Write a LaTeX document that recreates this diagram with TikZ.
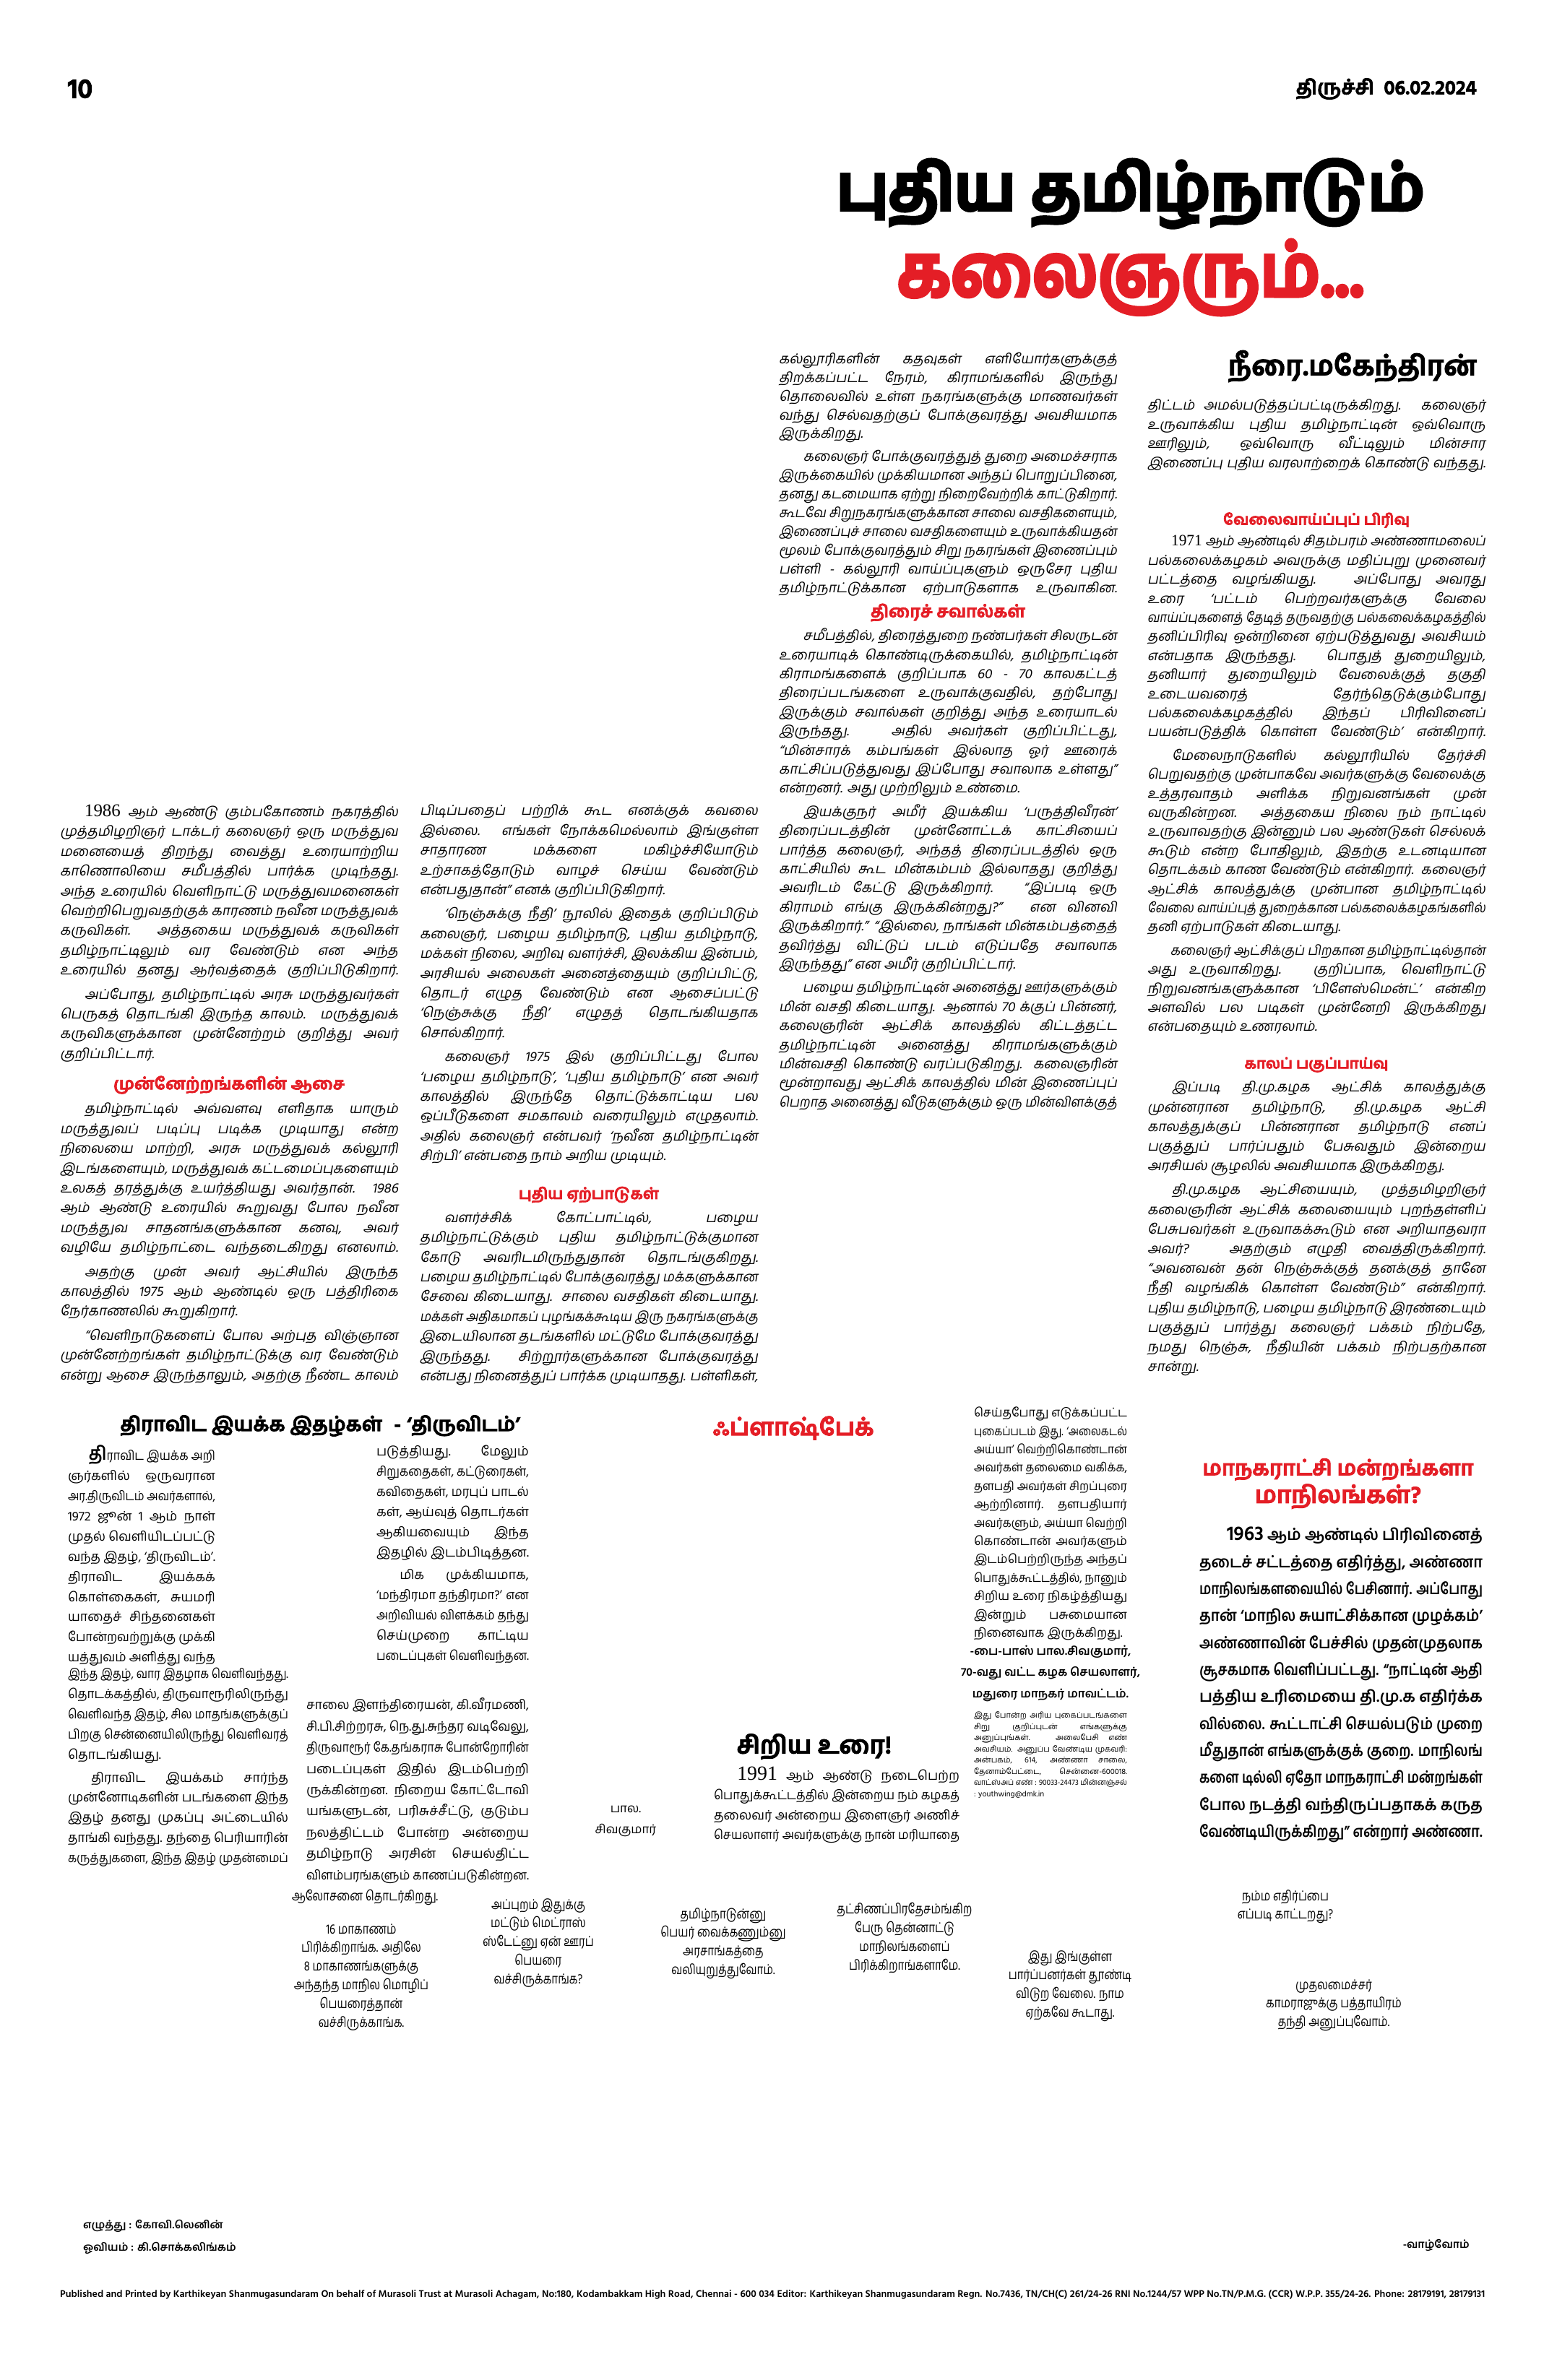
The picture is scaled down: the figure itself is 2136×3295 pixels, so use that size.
\documentclass[tikz,border=0pt]{standalone}
\usepackage{fontspec}
\usepackage{graphicx}
\setmainfont[Script=Tamil]{Hind Madurai}
\newfontfamily\slantfont[Script=Tamil,FakeSlant=0.18]{Hind Madurai}
\newfontfamily\condfont[Script=Tamil,FakeStretch=0.8]{Hind Madurai}
\newfontfamily\heavyfont[Script=Tamil,FakeBold=3]{Hind Madurai}
\newfontfamily\titlefont[Script=Tamil,FakeBold=5]{Hind Madurai}
\newfontfamily\numfont{Liberation Serif}
\definecolor{tnred}{RGB}{228,30,38}

% one justified line of a column, squeezed if it is too long
\newsavebox{\linebox}
\newcommand{\jline}[1]{\sbox\linebox{#1}\ifdim\wd\linebox>\linewidth\resizebox{\linewidth}{\height}{\usebox\linebox}\else\makebox[\linewidth][s]{#1}\fi\par}
\newcommand{\eline}[1]{\sbox\linebox{#1}\ifdim\wd\linebox>\linewidth\resizebox{\linewidth}{\height}{\usebox\linebox}\else\usebox\linebox\fi\par}
\newcommand{\pgap}{\vspace{6bp}}
\newcommand{\ind}{\hspace*{1.8em}}

\tikzset{
  textcol/.style={anchor=north west, inner sep=0pt, outer sep=0pt},
  colhead/.style={inner sep=0pt, text=tnred, font=\heavyfont\bfseries},
  blackhead/.style={inner sep=0pt, font=\heavyfont\bfseries},
  bubble/.style={anchor=north, inner sep=0pt, align=center, font=\condfont\fontsize{19}{26}\selectfont},
}

\begin{document}
\begin{tikzpicture}[x=1bp, y=-1bp]
\useasboundingbox (0,0) rectangle (2136,3295);

% page line
\node[blackhead] (pagenum) at (111,123) {\fontsize{38}{38}\selectfont 10};
\node[blackhead, anchor=east] (dateline) at (2044,123) {\resizebox{250bp}{!}{திருச்சி\hspace{0.5em}06.02.2024}};

% title
\node[inner sep=0pt, font=\titlefont\bfseries] (title1) at (1565,268) {\resizebox*{814bp}{95bp}{புதிய தமிழ்நாடும்}};
\node[inner sep=0pt, text=tnred, font=\titlefont\bfseries] (title2) at (1565,384) {\resizebox*{646bp}{104bp}{கலைஞரும்...}};
\node[blackhead] (author) at (1872,507) {\resizebox{344bp}{!}{நீரை.மகேந்திரன்}};

% column 1
\node[textcol] (colA) at (83,1114) {\begin{minipage}{468bp}\slantfont\fontsize{19}{27.5}\selectfont
\jline{\ind{\numfont\fontsize{25}{25}\selectfont 1986} ஆம் ஆண்டு கும்பகோணம் நகரத்தில்}
\jline{முத்தமிழறிஞர் டாக்டர் கலைஞர் ஒரு மருத்துவ}
\jline{மனையைத் திறந்து வைத்து உரையாற்றிய}
\jline{காணொலியை சமீபத்தில் பார்க்க முடிந்தது.}
\jline{அந்த உரையில் வெளிநாட்டு மருத்துவமனைகள்}
\jline{வெற்றிபெறுவதற்குக் காரணம் நவீன மருத்துவக்}
\jline{கருவிகள். அத்தகைய மருத்துவக் கருவிகள்}
\jline{தமிழ்நாட்டிலும் வர வேண்டும் என அந்த}
\jline{உரையில் தனது ஆர்வத்தைக் குறிப்பிடுகிறார்.}
\pgap
\jline{\ind அப்போது, தமிழ்நாட்டில் அரசு மருத்துவர்கள்}
\jline{பெருகத் தொடங்கி இருந்த காலம். மருத்துவக்}
\jline{கருவிகளுக்கான முன்னேற்றம் குறித்து அவர்}
\eline{குறிப்பிட்டார்.}
\end{minipage}};
\node[colhead] (headA) at (317,1502) {\resizebox{320bp}{!}{முன்னேற்றங்களின் ஆசை}};
\node[textcol] (colAb) at (83,1527) {\begin{minipage}{468bp}\slantfont\fontsize{19}{27.5}\selectfont
\jline{\ind தமிழ்நாட்டில் அவ்வளவு எளிதாக யாரும்}
\jline{மருத்துவப் படிப்பு படிக்க முடியாது என்ற}
\jline{நிலையை மாற்றி, அரசு மருத்துவக் கல்லூரி}
\jline{இடங்களையும், மருத்துவக் கட்டமைப்புகளையும்}
\jline{உலகத் தரத்துக்கு உயர்த்தியது அவர்தான். 1986}
\jline{ஆம் ஆண்டு உரையில் கூறுவது போல நவீன}
\jline{மருத்துவ சாதனங்களுக்கான கனவு, அவர்}
\jline{வழியே தமிழ்நாட்டை வந்தடைகிறது எனலாம்.}
\pgap
\jline{\ind அதற்கு முன் அவர் ஆட்சியில் இருந்த}
\jline{காலத்தில் 1975 ஆம் ஆண்டில் ஒரு பத்திரிகை}
\eline{நேர்காணலில் கூறுகிறார்.}
\pgap
\jline{\ind “வெளிநாடுகளைப் போல அற்புத விஞ்ஞான}
\jline{முன்னேற்றங்கள் தமிழ்நாட்டுக்கு வர வேண்டும்}
\jline{என்று ஆசை இருந்தாலும், அதற்கு நீண்ட காலம்}
\end{minipage}};

% column 2
\node[textcol] (colB) at (581,1114) {\begin{minipage}{468bp}\slantfont\fontsize{19}{27.5}\selectfont
\jline{பிடிப்பதைப் பற்றிக் கூட எனக்குக் கவலை}
\jline{இல்லை. எங்கள் நோக்கமெல்லாம் இங்குள்ள}
\jline{சாதாரண மக்களை மகிழ்ச்சியோடும்}
\jline{உற்சாகத்தோடும் வாழச் செய்ய வேண்டும்}
\eline{என்பதுதான்” எனக் குறிப்பிடுகிறார்.}
\pgap
\jline{\ind ‘நெஞ்சுக்கு நீதி’ நூலில் இதைக் குறிப்பிடும்}
\jline{கலைஞர், பழைய தமிழ்நாடு, புதிய தமிழ்நாடு,}
\jline{மக்கள் நிலை, அறிவு வளர்ச்சி, இலக்கிய இன்பம்,}
\jline{அரசியல் அலைகள் அனைத்தையும் குறிப்பிட்டு,}
\jline{தொடர் எழுத வேண்டும் என ஆசைப்பட்டு}
\jline{‘நெஞ்சுக்கு நீதி’ எழுதத் தொடங்கியதாக}
\eline{சொல்கிறார்.}
\pgap
\jline{\ind கலைஞர் 1975 இல் குறிப்பிட்டது போல}
\jline{‘பழைய தமிழ்நாடு’, ‘புதிய தமிழ்நாடு’ என அவர்}
\jline{காலத்தில் இருந்தே தொட்டுக்காட்டிய பல}
\jline{ஒப்பீடுகளை சமகாலம் வரையிலும் எழுதலாம்.}
\jline{அதில் கலைஞர் என்பவர் ‘நவீன தமிழ்நாட்டின்}
\eline{சிற்பி’ என்பதை நாம் அறிய முடியும்.}
\end{minipage}};
\node[colhead] (headB) at (815,1654) {\resizebox{194bp}{!}{புதிய ஏற்பாடுகள்}};
\node[textcol] (colBb) at (581,1677) {\begin{minipage}{468bp}\slantfont\fontsize{19}{27.5}\selectfont
\jline{\ind வளர்ச்சிக் கோட்பாட்டில், பழைய}
\jline{தமிழ்நாட்டுக்கும் புதிய தமிழ்நாட்டுக்குமான}
\jline{கோடு அவரிடமிருந்துதான் தொடங்குகிறது.}
\jline{பழைய தமிழ்நாட்டில் போக்குவரத்து மக்களுக்கான}
\jline{சேவை கிடையாது. சாலை வசதிகள் கிடையாது.}
\jline{மக்கள் அதிகமாகப் புழங்கக்கூடிய இரு நகரங்களுக்கு}
\jline{இடையிலான தடங்களில் மட்டுமே போக்குவரத்து}
\jline{இருந்தது. சிற்றூர்களுக்கான போக்குவரத்து}
\jline{என்பது நினைத்துப் பார்க்க முடியாதது. பள்ளிகள்,}
\end{minipage}};

% column 3
\node[textcol] (colC) at (1078,488) {\begin{minipage}{468bp}\slantfont\fontsize{19}{26}\selectfont
\jline{கல்லூரிகளின் கதவுகள் எளியோர்களுக்குத்}
\jline{திறக்கப்பட்ட நேரம், கிராமங்களில் இருந்து}
\jline{தொலைவில் உள்ள நகரங்களுக்கு மாணவர்கள்}
\jline{வந்து செல்வதற்குப் போக்குவரத்து அவசியமாக}
\eline{இருக்கிறது.}
\pgap
\jline{\ind கலைஞர் போக்குவரத்துத் துறை அமைச்சராக}
\jline{இருக்கையில் முக்கியமான அந்தப் பொறுப்பினை,}
\jline{தனது கடமையாக ஏற்று நிறைவேற்றிக் காட்டுகிறார்.}
\jline{கூடவே சிறுநகரங்களுக்கான சாலை வசதிகளையும்,}
\jline{இணைப்புச் சாலை வசதிகளையும் உருவாக்கியதன்}
\jline{மூலம் போக்குவரத்தும் சிறு நகரங்கள் இணைப்பும்}
\jline{பள்ளி - கல்லூரி வாய்ப்புகளும் ஒருசேர புதிய}
\jline{தமிழ்நாட்டுக்கான ஏற்பாடுகளாக உருவாகின.}
\end{minipage}};
\node[colhead] (headC) at (1312,848) {\resizebox{214bp}{!}{திரைச் சவால்கள்}};
\node[textcol] (colCb) at (1078,870) {\begin{minipage}{468bp}\slantfont\fontsize{19}{26.5}\selectfont
\jline{\ind சமீபத்தில், திரைத்துறை நண்பர்கள் சிலருடன்}
\jline{உரையாடிக் கொண்டிருக்கையில், தமிழ்நாட்டின்}
\jline{கிராமங்களைக் குறிப்பாக 60 - 70 காலகட்டத்}
\jline{திரைப்படங்களை உருவாக்குவதில், தற்போது}
\jline{இருக்கும் சவால்கள் குறித்து அந்த உரையாடல்}
\jline{இருந்தது. அதில் அவர்கள் குறிப்பிட்டது,}
\jline{“மின்சாரக் கம்பங்கள் இல்லாத ஓர் ஊரைக்}
\jline{காட்சிப்படுத்துவது இப்போது சவாலாக உள்ளது”}
\eline{என்றனர். அது முற்றிலும் உண்மை.}
\pgap
\jline{\ind இயக்குநர் அமீர் இயக்கிய ‘பருத்திவீரன்’}
\jline{திரைப்படத்தின் முன்னோட்டக் காட்சியைப்}
\jline{பார்த்த கலைஞர், அந்தத் திரைப்படத்தில் ஒரு}
\jline{காட்சியில் கூட மின்கம்பம் இல்லாதது குறித்து}
\jline{அவரிடம் கேட்டு இருக்கிறார். “இப்படி ஒரு}
\jline{கிராமம் எங்கு இருக்கின்றது?” என வினவி}
\jline{இருக்கிறார்.” “இல்லை, நாங்கள் மின்கம்பத்தைத்}
\jline{தவிர்த்து விட்டுப் படம் எடுப்பதே சவாலாக}
\eline{இருந்தது” என அமீர் குறிப்பிட்டார்.}
\pgap
\jline{\ind பழைய தமிழ்நாட்டின் அனைத்து ஊர்களுக்கும்}
\jline{மின் வசதி கிடையாது. ஆனால் 70 க்குப் பின்னர்,}
\jline{கலைஞரின் ஆட்சிக் காலத்தில் கிட்டத்தட்ட}
\jline{தமிழ்நாட்டின் அனைத்து கிராமங்களுக்கும்}
\jline{மின்வசதி கொண்டு வரப்படுகிறது. கலைஞரின்}
\jline{மூன்றாவது ஆட்சிக் காலத்தில் மின் இணைப்புப்}
\jline{பெறாத அனைத்து வீடுகளுக்கும் ஒரு மின்விளக்குத்}
\end{minipage}};

% column 4
\node[textcol] (colD) at (1588,553) {\begin{minipage}{468bp}\slantfont\fontsize{19}{26.5}\selectfont
\jline{திட்டம் அமல்படுத்தப்பட்டிருக்கிறது. கலைஞர்}
\jline{உருவாக்கிய புதிய தமிழ்நாட்டின் ஒவ்வொரு}
\jline{ஊரிலும், ஒவ்வொரு வீட்டிலும் மின்சார}
\jline{இணைப்பு புதிய வரலாற்றைக் கொண்டு வந்தது.}
\end{minipage}};
\node[colhead] (headD) at (1822,720) {\resizebox{258bp}{!}{வேலைவாய்ப்புப் பிரிவு}};
\node[textcol] (colDb) at (1588,741) {\begin{minipage}{468bp}\slantfont\fontsize{19}{26.5}\selectfont
\jline{\ind{\numfont\fontsize{22}{22}\selectfont 1971} ஆம் ஆண்டில் சிதம்பரம் அண்ணாமலைப்}
\jline{பல்கலைக்கழகம் அவருக்கு மதிப்புறு முனைவர்}
\jline{பட்டத்தை வழங்கியது. அப்போது அவரது}
\jline{உரை ‘பட்டம் பெற்றவர்களுக்கு வேலை}
\jline{வாய்ப்புகளைத் தேடித் தருவதற்கு பல்கலைக்கழகத்தில்}
\jline{தனிப்பிரிவு ஒன்றினை ஏற்படுத்துவது அவசியம்}
\jline{என்பதாக இருந்தது. பொதுத் துறையிலும்,}
\jline{தனியார் துறையிலும் வேலைக்குத் தகுதி}
\jline{உடையவரைத் தேர்ந்தெடுக்கும்போது}
\jline{பல்கலைக்கழகத்தில் இந்தப் பிரிவினைப்}
\jline{பயன்படுத்திக் கொள்ள வேண்டும்’ என்கிறார்.}
\pgap
\jline{\ind மேலைநாடுகளில் கல்லூரியில் தேர்ச்சி}
\jline{பெறுவதற்கு முன்பாகவே அவர்களுக்கு வேலைக்கு}
\jline{உத்தரவாதம் அளிக்க நிறுவனங்கள் முன்}
\jline{வருகின்றன. அத்தகைய நிலை நம் நாட்டில்}
\jline{உருவாவதற்கு இன்னும் பல ஆண்டுகள் செல்லக்}
\jline{கூடும் என்ற போதிலும், இதற்கு உடனடியான}
\jline{தொடக்கம் காண வேண்டும் என்கிறார். கலைஞர்}
\jline{ஆட்சிக் காலத்துக்கு முன்பான தமிழ்நாட்டில்}
\jline{வேலை வாய்ப்புத் துறைக்கான பல்கலைக்கழகங்களில்}
\eline{தனி ஏற்பாடுகள் கிடையாது.}
\pgap
\jline{\ind கலைஞர் ஆட்சிக்குப் பிறகான தமிழ்நாட்டில்தான்}
\jline{அது உருவாகிறது. குறிப்பாக, வெளிநாட்டு}
\jline{நிறுவனங்களுக்கான ‘பிளேஸ்மென்ட்’ என்கிற}
\jline{அளவில் பல படிகள் முன்னேறி இருக்கிறது}
\eline{என்பதையும் உணரலாம்.}
\end{minipage}};
\node[colhead] (headDb) at (1822,1474) {\resizebox{199bp}{!}{காலப் பகுப்பாய்வு}};
\node[textcol] (colDc) at (1588,1497) {\begin{minipage}{468bp}\slantfont\fontsize{19}{27.3}\selectfont
\jline{\ind இப்படி தி.மு.கழக ஆட்சிக் காலத்துக்கு}
\jline{முன்னரான தமிழ்நாடு, தி.மு.கழக ஆட்சி}
\jline{காலத்துக்குப் பின்னரான தமிழ்நாடு எனப்}
\jline{பகுத்துப் பார்ப்பதும் பேசுவதும் இன்றைய}
\eline{அரசியல் சூழலில் அவசியமாக இருக்கிறது.}
\pgap
\jline{\ind தி.மு.கழக ஆட்சியையும், முத்தமிழறிஞர்}
\jline{கலைஞரின் ஆட்சிக் கலையையும் புறந்தள்ளிப்}
\jline{பேசுபவர்கள் உருவாகக்கூடும் என அறியாதவரா}
\jline{அவர்? அதற்கும் எழுதி வைத்திருக்கிறார்.}
\jline{“அவனவன் தன் நெஞ்சுக்குத் தனக்குத் தானே}
\jline{நீதி வழங்கிக் கொள்ள வேண்டும்” என்கிறார்.}
\jline{புதிய தமிழ்நாடு, பழைய தமிழ்நாடு இரண்டையும்}
\jline{பகுத்துப் பார்த்து கலைஞர் பக்கம் நிற்பதே,}
\jline{நமது நெஞ்சு, நீதியின் பக்கம் நிற்பதற்கான}
\eline{சான்று.}
\end{minipage}};

% lower left: thiruvidam
\node[blackhead] (headE) at (443,1974) {\resizebox{553bp}{!}{திராவிட இயக்க இதழ்கள்\hspace{0.6em}-\hspace{0.3em}‘திருவிடம்’}};
\node[textcol] (colE) at (94,2001) {\begin{minipage}{204bp}\fontsize{18}{28}\selectfont
\jline{\ind{\bfseries\fontsize{26}{26}\selectfont தி}ராவிட இயக்க அறி}
\jline{ஞர்களில் ஒருவரான}
\jline{அர.திருவிடம் அவர்களால்,}
\jline{1972 ஜூன் 1 ஆம் நாள்}
\jline{முதல் வெளியிடப்பட்டு}
\jline{வந்த இதழ், ‘திருவிடம்’.}
\jline{திராவிட இயக்கக்}
\jline{கொள்கைகள், சுயமரி}
\jline{யாதைச் சிந்தனைகள்}
\jline{போன்றவற்றுக்கு முக்கி}
\jline{யத்துவம் அளித்து வந்த}
\end{minipage}};
\node[textcol] (colEb) at (94,2309) {\begin{minipage}{305bp}\fontsize{18}{28}\selectfont
\jline{இந்த இதழ், வார இதழாக வெளிவந்தது.}
\jline{தொடக்கத்தில், திருவாரூரிலிருந்து}
\jline{வெளிவந்த இதழ், சில மாதங்களுக்குப்}
\jline{பிறகு சென்னையிலிருந்து வெளிவரத்}
\eline{தொடங்கியது.}
\vspace{4bp}
\jline{\ind திராவிட இயக்கம் சார்ந்த}
\jline{முன்னோடிகளின் படங்களை இந்த}
\jline{இதழ் தனது முகப்பு அட்டையில்}
\jline{தாங்கி வந்தது. தந்தை பெரியாரின்}
\jline{கருத்துகளை, இந்த இதழ் முதன்மைப்}
\end{minipage}};
\node[textcol] (colF) at (521,2001) {\begin{minipage}{211bp}\fontsize{18}{28}\selectfont
\jline{படுத்தியது. மேலும்}
\jline{சிறுகதைகள், கட்டுரைகள்,}
\jline{கவிதைகள், மரபுப் பாடல்}
\jline{கள், ஆய்வுத் தொடர்கள்}
\jline{ஆகியவையும் இந்த}
\jline{இதழில் இடம்பிடித்தன.}
\vspace{4bp}
\jline{\ind மிக முக்கியமாக,}
\jline{‘மந்திரமா தந்திரமா?’ என}
\jline{அறிவியல் விளக்கம் தந்து}
\jline{செய்முறை காட்டிய}
\jline{படைப்புகள் வெளிவந்தன.}
\end{minipage}};
\node[textcol] (colFb) at (424,2351) {\begin{minipage}{308bp}\fontsize{18}{29.5}\selectfont
\jline{சாலை இளந்திரையன், கி.வீரமணி,}
\jline{சி.பி.சிற்றரசு, நெ.து.சுந்தர வடிவேலு,}
\jline{திருவாரூர் கே.தங்கராசு போன்றோரின்}
\jline{படைப்புகள் இதில் இடம்பெற்றி}
\jline{ருக்கின்றன. நிறைய கோட்டோவி}
\jline{யங்களுடன், பரிசுச்சீட்டு, குடும்ப}
\jline{நலத்திட்டம் போன்ற அன்றைய}
\jline{தமிழ்நாடு அரசின் செயல்திட்ட}
\jline{விளம்பரங்களும் காணப்படுகின்றன.}
\end{minipage}};

% flashback
\node[colhead] (headG) at (1098,1977) {\resizebox{223bp}{!}{ஃப்ளாஷ்பேக்}};
\node[textcol] (colG) at (1348,1948) {\begin{minipage}{212bp}\fontsize{17}{25.5}\selectfont
\jline{செய்தபோது எடுக்கப்பட்ட}
\jline{புகைப்படம் இது. ‘அலைகடல்}
\jline{அய்யா’ வெற்றிகொண்டான்}
\jline{அவர்கள் தலைமை வகிக்க,}
\jline{தளபதி அவர்கள் சிறப்புரை}
\jline{ஆற்றினார். தளபதியார்}
\jline{அவர்களும், அய்யா வெற்றி}
\jline{கொண்டான் அவர்களும்}
\jline{இடம்பெற்றிருந்த அந்தப்}
\jline{பொதுக்கூட்டத்தில், நானும்}
\jline{சிறிய உரை நிகழ்த்தியது}
\jline{இன்றும் பசுமையான}
\eline{நினைவாக இருக்கிறது.}
\end{minipage}};
\node[inner sep=0pt, anchor=north, align=center, font=\bfseries\fontsize{16}{30}\selectfont] (signG) at (1454,2278) {-பை-பாஸ் பால.சிவகுமார்,\\70-வது வட்ட கழக செயலாளர்,\\மதுரை மாநகர் மாவட்டம்.};
\node[textcol] (noteG) at (1348,2370) {\begin{minipage}{212bp}\fontsize{11}{15.5}\selectfont
\jline{இது போன்ற அரிய புகைப்படங்களை}
\jline{சிறு குறிப்புடன் எங்களுக்கு}
\jline{அனுப்புங்கள். அலைபேசி எண்}
\jline{அவசியம். அனுப்ப வேண்டிய முகவரி:}
\jline{அன்பகம், 614, அண்ணா சாலை,}
\jline{தேனாம்பேட்டை, சென்னை-600018.}
\jline{வாட்ஸ்அப் எண் : 90033-24473 மின்னஞ்சல்}
\eline{: youthwing@dmk.in}
\end{minipage}};

% small speech
\node[blackhead] (headH) at (1127,2418) {\fontsize{34}{34}\selectfont சிறிய உரை!};
\node[textcol] (colH) at (988,2446) {\begin{minipage}{340bp}\fontsize{18}{27.5}\selectfont
\jline{\ind{\numfont\fontsize{28}{28}\selectfont 1991} ஆம் ஆண்டு நடைபெற்ற}
\jline{பொதுக்கூட்டத்தில் இன்றைய நம் கழகத்}
\jline{தலைவர் அன்றைய இளைஞர் அணிச்}
\jline{செயலாளர் அவர்களுக்கு நான் மரியாதை}
\end{minipage}};
\node[inner sep=0pt, anchor=north, align=center, font=\fontsize{17}{29}\selectfont] (capH) at (866,2500) {பால.\\சிவகுமார்};

% right box
\node[colhead, align=center] (headI) at (1852,2054) {\resizebox{375bp}{!}{மாநகராட்சி மன்றங்களா}\\[4bp]\resizebox{230bp}{!}{மாநிலங்கள்?}};
\node[textcol] (colI) at (1660,2114) {\begin{minipage}{392bp}\bfseries\fontsize{22}{37.5}\selectfont
\jline{\ind{\fontsize{28}{28}\selectfont 1963} ஆம் ஆண்டில் பிரிவினைத்}
\jline{தடைச் சட்டத்தை எதிர்த்து, அண்ணா}
\jline{மாநிலங்களவையில் பேசினார். அப்போது}
\jline{தான் ‘மாநில சுயாட்சிக்கான முழக்கம்’}
\jline{அண்ணாவின் பேச்சில் முதன்முதலாக}
\jline{சூசகமாக வெளிப்பட்டது. “நாட்டின் ஆதி}
\jline{பத்திய உரிமையை தி.மு.க எதிர்க்க}
\jline{வில்லை. கூட்டாட்சி செயல்படும் முறை}
\jline{மீதுதான் எங்களுக்குக் குறை. மாநிலங்}
\jline{களை டில்லி ஏதோ மாநகராட்சி மன்றங்கள்}
\jline{போல நடத்தி வந்திருப்பதாகக் கருத}
\jline{வேண்டியிருக்கிறது” என்றார் அண்ணா.}
\end{minipage}};

% comic strip texts
\node[bubble] (talk1) at (505,2616) {ஆலோசனை தொடர்கிறது.};
\node[bubble] (talk2) at (500,2663) {16 மாகாணம்\\பிரிக்கிறாங்க. அதிலே\\8 மாகாணங்களுக்கு\\அந்தந்த மாநில மொழிப்\\பெயரைத்தான்\\வச்சிருக்காங்க.};
\node[bubble] (talk3) at (745,2628) {அப்புறம் இதுக்கு\\மட்டும் மெட்ராஸ்\\ஸ்டேட்னு ஏன் ஊரப்\\பெயரை\\வச்சிருக்காங்க?};
\node[bubble] (talk4) at (1001,2641) {தமிழ்நாடுன்னு\\பெயர் வைக்கணும்னு\\அரசாங்கத்தை\\வலியுறுத்துவோம்.};
\node[bubble] (talk5) at (1252,2634) {தட்சிணப்பிரதேசம்ங்கிற\\பேரு தென்னாட்டு\\மாநிலங்களைப்\\பிரிக்கிறாங்களாமே.};
\node[bubble] (talk6) at (1481,2700) {இது இங்குள்ள\\பார்ப்பனர்கள் தூண்டி\\விடுற வேலை. நாம\\ஏற்கவே கூடாது.};
\node[bubble] (talk7) at (1779,2616) {நம்ம எதிர்ப்பை\\எப்படி காட்டறது?};
\node[bubble] (talk8) at (1846,2740) {முதலமைச்சர்\\காமராஜுக்கு பத்தாயிரம்\\தந்தி அனுப்புவோம்.};

% credits and footer
\node[inner sep=0pt, anchor=west, align=left, font=\bfseries\fontsize{15}{31}\selectfont] (credits) at (115,3097) {எழுத்து : கோவி.லெனின்\\ஓவியம் : கி.சொக்கலிங்கம்};
\node[inner sep=0pt, anchor=east, font=\bfseries\fontsize{15}{15}\selectfont] (sign) at (2034,3108) {-வாழ்வோம்};
\node[inner sep=0pt, anchor=west, font=\bfseries] (footer) at (83,3177) {\resizebox{1972bp}{!}{Published and Printed by Karthikeyan Shanmugasundaram On behalf of Murasoli Trust at Murasoli Achagam, No:180, Kodambakkam High Road, Chennai - 600 034 Editor: Karthikeyan Shanmugasundaram Regn. No.7436, TN/CH(C) 261/24-26 RNI No.1244/57 WPP No.TN/P.M.G. (CCR) W.P.P. 355/24-26. Phone: 28179191, 28179131}};
\end{tikzpicture}
\end{document}
